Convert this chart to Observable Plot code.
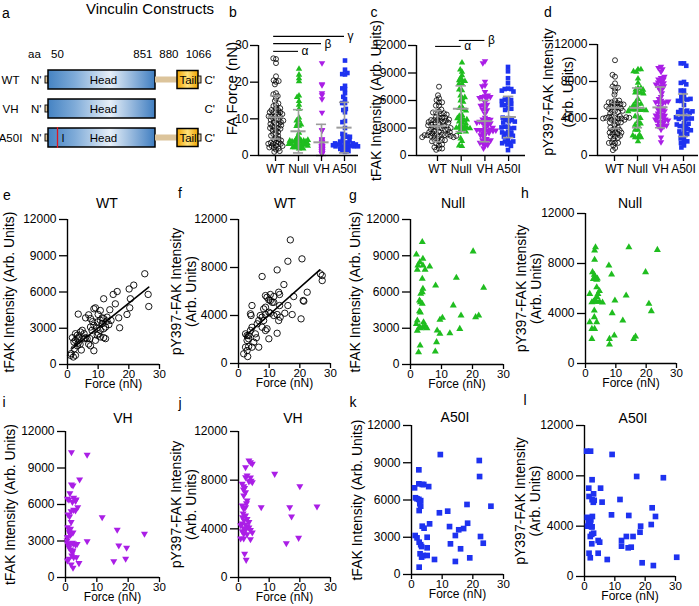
<!DOCTYPE html>
<html><head><meta charset="utf-8">
<script src="https://cdn.jsdelivr.net/npm/d3@7"></script>
<script src="https://cdn.jsdelivr.net/npm/@observablehq/plot@0.6"></script>
<style>
body{margin:0;background:#fff;}
#fig{position:relative;width:699px;height:606px;overflow:hidden;background:#fff;font-family:Arial,"Liberation Sans",sans-serif;color:#000;}
.t{position:absolute;transform:translate(-50%,-50%);white-space:nowrap;line-height:1;}
</style></head><body><div id="fig"></div>
<script>
// ---------------- data ----------------
const groups = ["WT", "Null", "VH", "A50I"];
const constructs = ["WT", "VH", "A50I"];
const constructParts = [["WT","N"],["WT","Head"],["WT","Linker"],["WT","Tail"],["WT","C"],
  ["VH","N"],["VH","Head"],["A50I","N"],["A50I","Head"],["A50I","Linker"],["A50I","Tail"],["A50I","C"]];
const partNames = ["N", "Head", "Linker", "Tail", "C"];
const partStart = [0, 1, 851, 880, 1066];
const partEnd = [1, 851, 880, 1066, 1080];
const aaTicks = [50, 851, 880, 1066];
const mutationAA = 50;

// panel b-d summary (mean, SD)
const forceMean = [10.4, 6.6, 3.6, 7.6];
const forceSD = [5.9, 5.9, 4.9, 6.9];
const tfakMean = [3200, 5100, 3750, 4200];
const tfakSD = [1700, 2500, 2250, 2250];
const pyMean = [5150, 5150, 5200, 4350];
const pySD = [2250, 2150, 2200, 2300];
const sigB = [["WT","Null",28.4,"α"],["WT","VH",30.5,"β"],["WT","A50I",32.5,"γ"]];
const sigC = [["WT","Null",11900,"α"],["Null","VH",12550,"β"]];

// scatter panels: [force nN, intensity]
const eWT = [[25.2,7510],[26.3,5800],[26.5,4800],[20.1,6250],[21.6,6570],[20.5,5440],[20.3,4690],[19.4,4140],[17.0,3040],[16.7,3860],[15.6,5020],[16.2,6040],[14.9,5800],[13.8,4530],[11.8,5440],[3.5,4170],[6.9,4110],[8.6,4610],[9.1,4690],[10.0,4140],[7.5,3800],[5.9,3860],[10.7,3660],[11.8,3800],[11.3,3860],[12.9,3590],[12.4,3100],[11.8,2960],[8.6,3240],[9.7,3520],[7.5,3100],[8.0,2830],[7.3,2140],[10.7,2830],[10.1,2550],[9.7,2420],[10.7,2280],[12.4,2140],[11.8,2220],[4.8,2830],[4.2,2690],[3.2,2420],[3.7,2280],[3.2,2140],[5.9,2220],[5.4,2140],[1.6,2220],[2.6,2000],[2.1,1860],[1.0,760],[1.9,620],[2.6,760],[1.2,900],[8.6,1140],[7.5,1550],[6.9,1690],[3.5,1780],[4.1,1670],[2.6,2550],[9.1,2000],[11.3,3380],[12.9,3920],[5.4,2550],[6.4,2140],[3.2,1550],[10.7,4470],[2.2,1300],[4.5,1200],[13.5,3300],[9.5,3000],[8.2,3550],[14.2,3650]];
const eFit = [[1.5,1320],[26.5,6400]];
const fWT = [[16.9,10300],[16.1,8520],[20.7,8720],[12.6,7800],[7.7,7250],[26.7,7470],[27.3,7330],[27.3,6910],[14.8,6580],[22.4,5940],[21.1,5250],[21.3,5190],[18.0,5580],[8.8,5660],[10.4,5750],[11.5,5580],[13.1,5940],[13.4,5750],[13.4,4830],[16.1,4830],[17.5,4080],[15.1,4190],[20.4,3720],[10.4,5250],[11.0,5100],[11.5,5100],[9.3,5520],[9.9,5300],[8.8,4690],[8.2,4550],[7.1,4000],[7.7,3860],[8.2,3580],[9.9,4270],[10.4,4190],[11.5,4000],[12.6,4080],[13.1,3580],[13.6,3860],[12.6,2520],[9.9,2060],[9.3,2890],[8.8,2750],[6.6,3580],[6.1,3310],[4.4,3020],[3.9,2750],[3.3,2330],[3.9,4140],[4.1,4000],[4.4,4830],[2.8,2330],[2.3,2470],[3.3,2060],[2.8,1920],[2.3,1360],[3.3,1420],[4.4,1360],[2.8,1080],[1.7,810],[3.0,580],[6.6,1360],[5.0,1780],[5.5,2470],[5.8,2140],[8.8,4080],[7.7,3020]];
const fFit = [[2.0,2250],[26.5,7800]];
const gNull = [[3.8,10130],[1.9,9110],[4.0,8750],[3.0,8470],[2.4,8200],[4.0,8200],[4.7,7840],[2.2,7840],[6.2,8110],[3.8,7100],[4.0,6270],[3.8,5990],[3.3,5850],[2.9,5300],[3.2,5160],[3.8,5020],[2.9,4410],[3.2,4300],[2.2,3640],[1.9,3360],[2.9,3090],[4.0,3090],[4.7,3200],[4.2,3500],[2.2,2800],[3.3,3000],[5.3,3000],[3.1,1570],[2.6,1020],[8.1,6540],[9.5,3700],[10.3,3870],[8.6,2820],[9.5,2540],[8.4,1850],[8.0,1080],[12.7,2590],[13.8,4890],[14.8,7180],[16.3,4060],[15.9,2950],[20.2,9360],[23.6,6350],[21.0,3920],[22.0,4060]];
const hNull = [[3.3,9300],[3.0,9040],[14.3,9300],[23.7,9090],[3.0,8300],[7.7,7840],[19.8,7310],[8.6,7120],[2.3,7310],[2.9,7100],[3.1,6900],[3.9,6800],[2.6,6770],[3.7,6700],[1.4,5570],[3.7,6100],[4.6,5800],[4.1,5570],[3.8,5330],[3.1,5100],[2.6,4950],[2.1,4900],[3.6,4950],[4.6,4950],[5.6,4880],[13.4,5440],[9.7,5040],[20.9,4780],[21.7,4190],[2.9,4240],[8.8,4030],[2.9,3710],[1.4,3310],[3.7,3310],[12.3,3440],[2.1,2770],[3.0,2770],[2.1,1970],[7.9,1970],[9.5,2240],[7.9,1520],[15.9,1970],[16.5,2160]];
const iVH = [[1.9,10300],[6.9,10090],[4.5,8060],[1.9,7650],[2.4,7560],[1.4,6930],[0.6,6470],[1.1,6390],[2.6,6550],[3.4,6400],[3.2,6300],[2.2,6200],[3.9,5780],[3.2,5510],[2.6,5560],[1.8,5450],[0.8,5180],[1.3,5010],[1.8,4550],[11.7,4960],[0.7,4130],[1.2,3950],[1.6,4000],[1.2,3720],[1.6,3600],[2.0,3650],[2.4,3700],[1.6,3520],[0.6,3300],[6.9,2980],[16.5,3920],[25.2,3590],[17.0,2630],[19.5,2440],[19.2,1540],[15.4,1340],[0.6,2800],[1.1,2750],[1.6,2790],[2.2,2850],[2.6,2800],[3.2,2700],[3.7,2750],[1.1,2470],[1.6,2300],[2.2,2050],[2.0,1810],[2.4,2220],[2.6,1670],[1.1,1540],[0.6,1400],[1.8,1070],[2.4,800],[4.3,1180],[3.5,1670],[0.5,3040],[0.7,3310]];
const jVH = [[3.4,9620],[3.9,9480],[4.5,9350],[2.3,9070],[2.8,8380],[2.3,8240],[3.9,8220],[4.1,7950],[3.4,7900],[4.5,7830],[1.2,7700],[1.7,7500],[2.0,7350],[1.6,7230],[2.3,7010],[1.7,6740],[2.8,6330],[2.6,6110],[1.2,5920],[2.3,5780],[1.7,5650],[7.4,5780],[11.8,8520],[20.0,7500],[16.7,5780],[17.3,5010],[25.6,5840],[1.5,5260],[2.3,5100],[1.3,4950],[1.8,4700],[2.8,4800],[3.4,4550],[1.2,4440],[0.7,4300],[2.3,4350],[2.8,4200],[3.4,4100],[1.7,4050],[2.3,3900],[3.9,3900],[4.5,3700],[1.2,3800],[1.7,3600],[2.8,3550],[0.7,3200],[1.7,3200],[3.9,3150],[15.6,2820],[19.6,3260],[2.0,1950],[2.5,1450]];
const kA50I = [[9.4,9660],[2.4,8430],[2.4,7300],[3.5,7250],[4.0,7250],[1.0,6980],[5.6,7080],[1.3,6180],[1.8,6100],[2.4,6050],[3.0,5950],[2.7,5700],[3.0,5500],[2.5,5150],[9.1,4970],[11.8,5100],[5.9,4080],[3.5,3890],[4.1,3730],[12.4,3860],[14.3,3140],[15.4,3600],[17.0,3700],[1.2,3140],[1.8,2950],[2.5,2600],[3.0,2400],[3.3,2250],[5.1,3000],[12.7,2470],[5.1,2150],[16.0,2070],[2.8,1670],[3.8,1530],[3.3,1400],[5.1,1530],[7.5,1210],[14.3,1050],[2.5,590],[22.1,9180],[22.2,7890],[18.1,5640],[25.9,5500],[18.3,4130],[22.5,3060],[23.4,2520],[19.0,1340]];
const lA50I = [[0.7,9960],[2.0,9960],[9.1,9700],[17.2,7950],[26.0,7850],[2.5,7690],[1.4,7020],[3.0,6570],[5.3,7020],[1.5,6360],[2.5,6100],[2.9,5900],[3.2,6050],[5.8,5910],[11.7,6120],[22.3,5460],[23.4,4770],[8.9,4900],[14.6,4850],[0.9,4700],[1.5,4600],[2.1,4500],[2.6,4770],[1.3,4300],[1.9,4100],[2.5,3950],[1.0,4000],[2.3,3950],[18.5,4000],[22.0,4130],[18.3,3520],[13.8,3180],[16.0,3180],[1.9,3180],[3.0,3440],[2.4,3350],[12.2,2860],[12.2,2410],[14.4,2280],[15.4,2330],[2.4,2600],[4.5,2860],[5.0,2730],[4.5,1850],[1.5,1850],[1.9,1490],[7.5,1350],[19.0,1090],[22.7,870],[30.4,1530]];

// ---------------- styles ----------------
const FONT = "Arial, 'Liberation Sans', sans-serif";
const green = "#1fbd1f", purple = "#aa1ee6", blue = "#1e32f0", gray = "#9c9c9c";
const triDown = {draw(ctx, size) {const y = -Math.sqrt(size / (Math.sqrt(3) * 3)); ctx.moveTo(0, -y * 2); ctx.lineTo(-Math.sqrt(3) * y, y); ctx.lineTo(Math.sqrt(3) * y, y); ctx.closePath();}};
const markSmall = [
  {symbol: "circle", r: 2.5, fill: "none", stroke: "black", strokeWidth: 0.8},
  {symbol: "triangle", r: 2.4, fill: green},
  {symbol: triDown, r: 2.4, fill: purple},
  {symbol: "square", r: 2.6, fill: blue}
];
const markBig = [
  {symbol: "circle", r: 3.2, fill: "none", stroke: "black", strokeWidth: 0.9},
  {symbol: "triangle", r: 2.6, fill: green},
  {symbol: triDown, r: 2.6, fill: purple},
  {symbol: "square", r: 3.2, fill: blue}
];
const baseStyle = {fontFamily: FONT, fontSize: "12px", color: "black", background: "transparent", overflow: "visible"};
const fig = document.getElementById("fig");
function place(svg, left, top) {
  svg.style.position = "absolute"; svg.style.left = left + "px"; svg.style.top = top + "px";
  fig.appendChild(svg); return svg;
}
function txt(x, y, s, size, extra = "") {
  const d = document.createElement("div");
  d.className = "t"; d.textContent = s;
  d.style.cssText += `left:${x}px;top:${y}px;font-size:${size}px;${extra}`;
  fig.appendChild(d);
}

// ---------------- panel a ----------------
{
  const parts = constructParts.map(([c, p]) => {const k = partNames.indexOf(p); return {c, p, x1: partStart[k], x2: partEnd[k]};});
  const fillOf = {N: "#dcc49b", Head: "url(#headGrad)", Linker: "#dcc49b", Tail: "url(#tailGrad)", C: "#dcc49b"};
  const inset = {N: 11, Head: 5, Linker: 11.5, Tail: 5.5, C: 11};
  const barMarks = partNames.map(p => Plot.barX(parts.filter(d => d.p === p), {
    x1: "x1", x2: "x2", y: "c", fill: fillOf[p], stroke: p === "Linker" ? "none" : "black",
    strokeWidth: p === "Head" || p === "Tail" ? 1.5 : 0.9, insetTop: inset[p], insetBottom: inset[p]}));
  const svg = Plot.plot({
    width: 230, height: 155, margin: 0,
    x: {type: "linear", domain: [0, 1, 50, 851, 880, 1066, 1080], range: [45, 48, 57, 155, 177, 198, 201], axis: null},
    y: {type: "band", domain: constructs, range: [64.5, 151.5], padding: 0, axis: null},
    style: {...baseStyle, fontSize: "11px"},
    marks: [
      ...barMarks,
      Plot.tickX([{c: "A50I", aa: mutationAA}], {x: "aa", y: "c", stroke: "#e0141e", strokeWidth: 1.3, insetTop: 4, insetBottom: 4}),
      Plot.text(parts.filter(d => d.p === "Head"), {x: d => (d.x1 + d.x2) / 2, y: "c", text: () => "Head", fontSize: 11.5}),
      Plot.text(parts.filter(d => d.p === "Tail"), {x: d => (d.x1 + d.x2) / 2, y: "c", text: () => "Tail", fontSize: 11.5}),
      Plot.text([{c: "A50I", aa: mutationAA}], {x: "aa", y: "c", text: () => "I", dx: 4, textAnchor: "start", fontSize: 11}),
      Plot.text(constructs, {x: 0, y: d => d, text: d => d, dx: -35, fontSize: 11.5}),
      Plot.text(constructs, {x: 0, y: d => d, text: () => "N'", dx: -4, textAnchor: "end", fontSize: 11.5}),
      Plot.text(constructs, {x: 1080, y: d => d, text: () => "C'", dx: 3, textAnchor: "start", fontSize: 11.5}),
      Plot.text(["aa"], {x: 0, y: () => "WT", text: d => d, dx: -11, dy: -26, fontSize: 11.5}),
      Plot.text([aaTicks[0]], {x: d => d, y: () => "WT", text: d => String(d), dy: -26, fontSize: 11.5}),
      Plot.text([aaTicks[1]], {x: d => d, y: () => "WT", text: d => String(d), dx: -3, dy: -26, textAnchor: "end", fontSize: 11.5}),
      Plot.text([aaTicks[2]], {x: d => d, y: () => "WT", text: d => String(d), dx: 1, dy: -26, textAnchor: "end", fontSize: 11.5}),
      Plot.text([aaTicks[3]], {x: d => d, y: () => "WT", text: d => String(d), dy: -26, fontSize: 11.5})
    ]
  });
  const defs = d3.select(svg).insert("defs", ":first-child");
  const hg = defs.append("linearGradient").attr("id", "headGrad");
  [["0%", "#4583c3"], ["25%", "#7fabd8"], ["58%", "#e6eff8"], ["100%", "#3f7dc0"]].forEach(([o, c]) => hg.append("stop").attr("offset", o).attr("stop-color", c));
  const tg = defs.append("linearGradient").attr("id", "tailGrad");
  [["0%", "#f0a400"], ["50%", "#ffe17a"], ["100%", "#f0a400"]].forEach(([o, c]) => tg.append("stop").attr("offset", o).attr("stop-color", c));
  place(svg, 0, 0);
  txt(150, 8, "Vinculin Constructs", 15);
}

// ---------------- panels b, c, d ----------------
function swarm({left, top, width, height, axisX, c0, step, endX, yTop, yBot, ymax, ticks, values, mean, sd, pad, label, labelDx, labelDy = 0, labelSize = 14, lineHeight = 1.1, sig = []}) {
  const rows = [];
  groups.forEach((g, gi) => values[gi].forEach(v => rows.push({g, v})));
  const mT = yTop - top, mB = top + height - yBot;
  const dots = Plot.plot({
    width, height, marginTop: mT, marginBottom: mB,
    marginLeft: c0 - step / 2 - left, marginRight: left + width - (c0 + step * 3.5),
    fx: {domain: groups, padding: 0, axis: null},
    y: {domain: [0, ymax], axis: null},
    style: baseStyle,
    marks: groups.map((g, gi) => Plot.dot(rows.filter(d => d.g === g),
      Plot.dodgeX({anchor: "middle", padding: pad[gi], y: "v", fx: "g", ...markSmall[gi]})))
  });
  place(dots, left, top);
  const xmin = (axisX - c0) / step, xmax = (endX - c0) / step;
  const stats = groups.map((g, i) => ({i, m: mean[i], lo: Math.max(0, mean[i] - sd[i]), hi: mean[i] + sd[i]}));
  const sg = sig.map(([a, b, y, l]) => ({a: groups.indexOf(a), b: groups.indexOf(b), y, l}));
  const over = Plot.plot({
    width, height, marginTop: mT, marginBottom: mB, marginLeft: axisX - left, marginRight: left + width - endX,
    x: {domain: [xmin, xmax], axis: null},
    y: {domain: [0, ymax], axis: null},
    style: baseStyle,
    marks: [
      Plot.ruleX(stats, {x: "i", y1: "lo", y2: "hi", stroke: gray, strokeWidth: 1.6}),
      Plot.ruleY(stats, {y: "hi", x1: d => d.i - 0.22, x2: d => d.i + 0.22, stroke: gray, strokeWidth: 1.6}),
      Plot.ruleY(stats, {y: "lo", x1: d => d.i - 0.22, x2: d => d.i + 0.22, stroke: gray, strokeWidth: 1.6}),
      Plot.ruleY(stats, {y: "m", x1: d => d.i - 0.33, x2: d => d.i + 0.33, stroke: gray, strokeWidth: 2}),
      Plot.ruleX([xmin], {y1: 0, y2: ymax, stroke: "black", strokeWidth: 1.4}),
      Plot.ruleY([0], {stroke: "black", strokeWidth: 1.4}),
      Plot.axisY({ticks, tickSize: 8, tickPadding: 2, tickFormat: "d", label: null, strokeWidth: 1.3, fontSize: 12}),
      Plot.axisX({ticks: [0, 1, 2, 3], tickFormat: i => groups[i], tickSize: 6, tickPadding: 3, label: null, strokeWidth: 1.3, fontSize: 12}),
      Plot.text([label], {text: d => d, frameAnchor: "left", textAnchor: "middle", lineAnchor: "middle", dx: labelDx, dy: labelDy, rotate: -90, fontSize: labelSize, lineHeight}),
      Plot.ruleY(sg, {y: "y", x1: d => d.a - 0.08, x2: "b", stroke: "black", strokeWidth: 1.1}),
      Plot.text(sg, {x: "b", y: "y", text: "l", dx: 3, textAnchor: "start", fontSize: 12})
    ]
  });
  place(over, left, top);
}
swarm({left: 215, top: 30, width: 148, height: 160, axisX: 258, c0: 275, step: 23, endX: 358, yTop: 45, yBot: 155,
  ymax: 30, ticks: [0, 10, 20, 30], values: [eWT, gNull, iVH, kA50I].map(a => a.map(d => d[0])), pad: [-2.2, -2.4, -2.45, -2.4],
  mean: forceMean, sd: forceSD, label: "FA Force (nN)", labelDx: -27, labelDy: -12, labelSize: 15, sig: sigB});
swarm({left: 362, top: 30, width: 166, height: 160, axisX: 416, c0: 437, step: 23.7, endX: 525, yTop: 45, yBot: 155,
  ymax: 12000, ticks: [0, 3000, 6000, 9000, 12000], values: [eWT, gNull, iVH, kA50I].map(a => a.map(d => d[1])), pad: [-1.9, -1.9, -1.9, -1.9],
  mean: tfakMean, sd: tfakSD, label: "tFAK Intensity (Arb. Units)", labelDx: -40, labelDy: 0, sig: sigC});
swarm({left: 535, top: 30, width: 164, height: 160, axisX: 597, c0: 614, step: 23, endX: 698, yTop: 44, yBot: 155,
  ymax: 12000, ticks: [0, 4000, 8000, 12000], values: [fWT, hNull, jVH, lA50I].map(a => a.map(d => d[1])), pad: [-1.9, -1.9, -1.9, -1.9],
  mean: pyMean, sd: pySD, label: "pY397-FAK Intensity\n(Arb. Units)", labelDx: -41, labelDy: -8, lineHeight: 1.4});

// ---------------- panels e-l ----------------
function scatter({left, top, axisX, x30, y0, y12, yTicks, pts, mark, label, labelDx, fit}) {
  const width = x30 - left + 14, height = y0 - top + 30;
  const svg = Plot.plot({
    width, height, marginLeft: axisX - left, marginRight: 14, marginTop: y12 - top, marginBottom: 30,
    x: {domain: [0, 30], axis: null}, y: {domain: [0, 12000], axis: null},
    style: baseStyle,
    marks: [
      Plot.ruleX([0], {y1: 0, y2: 12000, stroke: "black", strokeWidth: 1.4}),
      Plot.ruleY([0], {x1: 0, x2: 30, stroke: "black", strokeWidth: 1.4}),
      Plot.axisY({ticks: yTicks, tickSize: 8, tickPadding: 3, tickFormat: "d", label: null, strokeWidth: 1.3, fontSize: 12}),
      Plot.axisX({ticks: [0, 10, 20, 30], tickSize: 5, tickPadding: 0, tickFormat: "d", label: null, strokeWidth: 1.3, fontSize: 11.5}),
      Plot.text(["Force (nN)"], {text: d => d, frameAnchor: "bottom", dy: 23, fontSize: 12}),
      Plot.text([label], {text: d => d, frameAnchor: "left", textAnchor: "middle", lineAnchor: "middle", dx: labelDx, rotate: -90, fontSize: 14, lineHeight: 1.1}),
      fit ? Plot.line(fit, {x: d => d[0], y: d => d[1], stroke: "black", strokeWidth: 1.6}) : null,
      Plot.dot(pts, {x: d => d[0], y: d => d[1], ...mark})
    ]
  });
  place(svg, left, top);
}
const T1 = "tFAK Intensity (Arb. Units)", T2 = "pY397-FAK Intensity\n(Arb. Units)";
const tk1 = [0, 3000, 6000, 9000, 12000], tk2 = [0, 4000, 8000, 12000];
scatter({left: 0, top: 205, axisX: 67, x30: 159, y0: 364, y12: 219, yTicks: tk1, pts: eWT, mark: markBig[0], label: T1, labelDx: -58, fit: eFit});
scatter({left: 165, top: 205, axisX: 238, x30: 330, y0: 363, y12: 219, yTicks: tk2, pts: fWT, mark: markBig[0], label: T2, labelDx: -55, fit: fFit});
scatter({left: 340, top: 205, axisX: 410, x30: 503, y0: 364, y12: 219, yTicks: tk1, pts: gNull, mark: markBig[1], label: T1, labelDx: -55});
scatter({left: 510, top: 200, axisX: 585, x30: 676, y0: 363, y12: 213, yTicks: tk2, pts: hNull, mark: markBig[1], label: T2, labelDx: -57});
scatter({left: 0, top: 420, axisX: 65, x30: 159, y0: 577, y12: 431, yTicks: tk1, pts: iVH, mark: markBig[2], label: T1, labelDx: -55});
scatter({left: 165, top: 420, axisX: 238, x30: 330, y0: 577, y12: 431, yTicks: tk2, pts: jVH, mark: markBig[2], label: T2, labelDx: -55});
scatter({left: 340, top: 415, axisX: 411, x30: 503, y0: 574, y12: 425, yTicks: tk1, pts: kA50I, mark: markBig[3], label: T1, labelDx: -54});
scatter({left: 510, top: 415, axisX: 584, x30: 675, y0: 576, y12: 425, yTicks: tk2, pts: lA50I, mark: markBig[3], label: T2, labelDx: -57});

// titles and panel letters
[["WT",107,203],["WT",285,203],["Null",453,203],["Null",630,203],["VH",123,418],["VH",293,418],["A50I",455,417],["A50I",633,418]]
  .forEach(([s, x, y]) => txt(x, y, s, 14));
[["a",6,13],["b",233,12],["c",374,12],["d",548,12],["e",7,195],["f",180,193],["g",353,195],["h",525,193],["i",4,402],["j",180,403],["k",353,402],["l",525,400]]
  .forEach(([s, x, y]) => txt(x, y, s, 14));
</script></body></html>
